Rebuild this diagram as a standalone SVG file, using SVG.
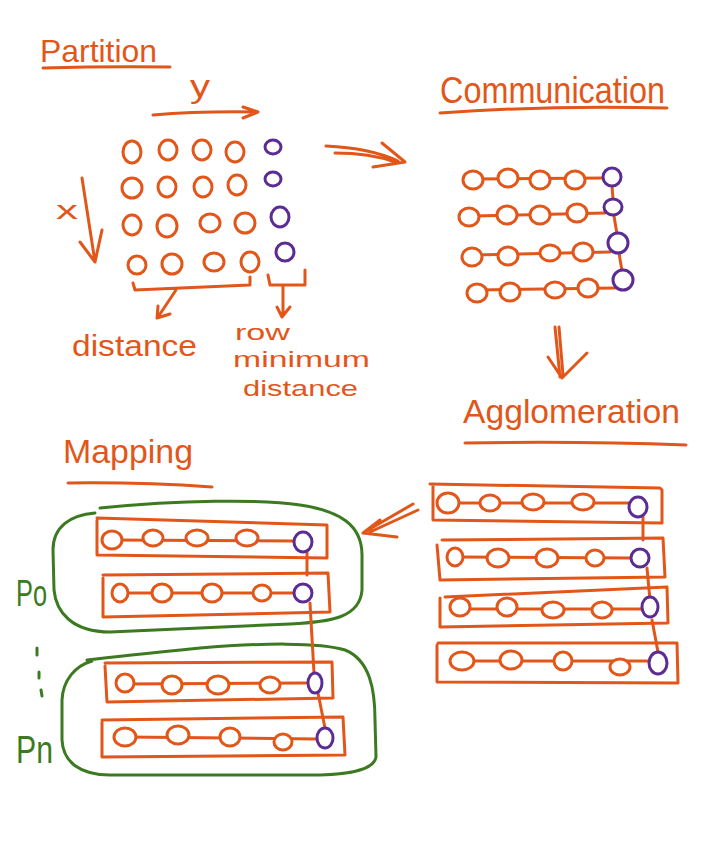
<svg xmlns="http://www.w3.org/2000/svg" width="718" height="865" viewBox="0 0 718 865">
<style>
.o{fill:none;stroke:#E2561A;stroke-width:3;stroke-linecap:round;stroke-linejoin:round}
.oc{fill:#fff;stroke:#E2561A;stroke-width:3}
.pc{fill:#fff;stroke:#5B2C91;stroke-width:3}
.g{fill:none;stroke:#3C7A22;stroke-width:3;stroke-linecap:round;stroke-linejoin:round}
.t{fill:#E2561A;font-family:"Liberation Sans","DejaVu Sans",sans-serif}
.tg{fill:#3C7A22;font-family:"Liberation Sans","DejaVu Sans",sans-serif}
</style>
<rect width="718" height="865" fill="#fff"/>

<g id="partition">
<text class="t" x="40" y="62" font-size="32" textLength="117" lengthAdjust="spacingAndGlyphs">Partition</text>
<path class="o" d="M43,68 Q110,66 170,67"/>
<text class="t" x="190" y="97" font-size="32" textLength="20" lengthAdjust="spacingAndGlyphs">y</text>
<path class="o" d="M153,115 Q200,111 257,112 M243,107 L258,112 L243,118"/>
<text class="t" x="56" y="219" font-size="26" textLength="22" lengthAdjust="spacingAndGlyphs">x</text>
<path class="o" d="M82,178 L95,262 M80,242 L95,262 L102,230"/>
<g id="grid">
<ellipse class="oc" cx="132" cy="152" rx="9" ry="11"/>
<ellipse class="oc" cx="168" cy="150" rx="9" ry="10"/>
<ellipse class="oc" cx="202" cy="150" rx="9" ry="10"/>
<ellipse class="oc" cx="235" cy="152" rx="9" ry="10"/>
<ellipse class="pc" cx="273" cy="147" rx="8" ry="7"/>
<ellipse class="oc" cx="132" cy="188" rx="10" ry="10"/>
<ellipse class="oc" cx="167" cy="187" rx="9" ry="10"/>
<ellipse class="oc" cx="203" cy="187" rx="9" ry="10"/>
<ellipse class="oc" cx="237" cy="185" rx="9" ry="10"/>
<ellipse class="pc" cx="273" cy="179" rx="8" ry="7"/>
<ellipse class="oc" cx="132" cy="225" rx="9" ry="10"/>
<ellipse class="oc" cx="167" cy="226" rx="10" ry="11"/>
<ellipse class="oc" cx="210" cy="223" rx="10" ry="9"/>
<ellipse class="oc" cx="245" cy="223" rx="10" ry="10"/>
<ellipse class="pc" cx="280" cy="217" rx="9" ry="10"/>
<ellipse class="oc" cx="137" cy="265" rx="9" ry="9"/>
<ellipse class="oc" cx="172" cy="264" rx="10" ry="10"/>
<ellipse class="oc" cx="214" cy="262" rx="10" ry="9"/>
<ellipse class="oc" cx="250" cy="262" rx="9" ry="10"/>
<ellipse class="pc" cx="285" cy="252" rx="9" ry="9"/>
</g>
<path class="o" d="M133,283 L135,290 L250,285 L250,277 M176,290 L158,317 M158,306 L157,318 L170,314"/>
<path class="o" d="M268,275 L270,285 L305,285 L305,270 M283,285 L283,316 M277,307 L282,317 L290,307"/>
<text class="t" x="72" y="356" font-size="30" textLength="125" lengthAdjust="spacingAndGlyphs">distance</text>
<text class="t" x="235" y="340" font-size="22" textLength="55" lengthAdjust="spacingAndGlyphs">row</text>
<text class="t" x="233" y="367" font-size="22" textLength="137" lengthAdjust="spacingAndGlyphs">minimum</text>
<text class="t" x="243" y="396" font-size="22" textLength="115" lengthAdjust="spacingAndGlyphs">distance</text>
</g>

<g id="connectors">
<path class="o" d="M326,146 Q370,148 398,161 M335,153 Q370,153 395,162 M382,143 L405,162 L373,167"/>
<path class="o" d="M555,327 L560,377 M559,327 L563,375 M548,357 L562,378 L587,353"/>
<path class="o" d="M413,504 L363,533 M418,510 L370,532 M380,520 L363,533 L397,537"/>
</g>

<g id="communication">
<text class="t" x="440" y="103" font-size="36" textLength="225" lengthAdjust="spacingAndGlyphs">Communication</text>
<path class="o" d="M440,113 Q550,105 667,108"/>
<path class="o" d="M473,179 L604,178 M473,216 L605,213 M472,255 L610,252 M477,290 L615,288 M612,186 L613,199 M614,216 L617,234 M619,253 L622,271"/>
<ellipse class="oc" cx="473" cy="180" rx="10" ry="9"/>
<ellipse class="oc" cx="508" cy="178" rx="10" ry="9"/>
<ellipse class="oc" cx="540" cy="180" rx="10" ry="9"/>
<ellipse class="oc" cx="575" cy="180" rx="10" ry="9"/>
<ellipse class="pc" cx="612" cy="177" rx="9" ry="9"/>
<ellipse class="oc" cx="469" cy="217" rx="10" ry="9"/>
<ellipse class="oc" cx="507" cy="215" rx="10" ry="9"/>
<ellipse class="oc" cx="540" cy="215" rx="10" ry="9"/>
<ellipse class="oc" cx="577" cy="213" rx="10" ry="9"/>
<ellipse class="pc" cx="613" cy="207" rx="9" ry="8"/>
<ellipse class="oc" cx="472" cy="257" rx="10" ry="9"/>
<ellipse class="oc" cx="508" cy="256" rx="10" ry="9"/>
<ellipse class="oc" cx="550" cy="253" rx="10" ry="8"/>
<ellipse class="oc" cx="583" cy="252" rx="10" ry="9"/>
<ellipse class="pc" cx="618" cy="243" rx="10" ry="10"/>
<ellipse class="oc" cx="477" cy="293" rx="10" ry="9"/>
<ellipse class="oc" cx="510" cy="292" rx="10" ry="9"/>
<ellipse class="oc" cx="555" cy="290" rx="10" ry="8"/>
<ellipse class="oc" cx="588" cy="288" rx="10" ry="9"/>
<ellipse class="pc" cx="623" cy="280" rx="10" ry="10"/>
</g>

<g id="agglomeration">
<text class="t" x="463" y="423" font-size="34" textLength="217" lengthAdjust="spacingAndGlyphs">Agglomeration</text>
<path class="o" d="M465,443 Q580,441 686,445"/>
<path class="o" d="M430,484 L660,488 L662,490 L662,523 L433,520 L433,486"/>
<path class="o" d="M442,540 L663,538 L665,577 L440,580 L437,545"/>
<path class="o" d="M445,597 L667,587 L668,623 L440,627 L440,598"/>
<path class="o" d="M438,643 L677,643 L678,683 L437,682 L437,645"/>
<path class="o" d="M448,503 L629,503 M455,557 L631,558 M460,609 L641,609 M460,661 L649,661 M643,517 L643,540 M647,568 L650,600 M652,620 L658,652"/>
<ellipse class="oc" cx="448" cy="503" rx="11" ry="10"/>
<ellipse class="oc" cx="490" cy="503" rx="10" ry="8"/>
<ellipse class="oc" cx="533" cy="502" rx="11" ry="8"/>
<ellipse class="oc" cx="583" cy="502" rx="11" ry="8"/>
<ellipse class="pc" cx="638" cy="507" rx="9" ry="10"/>
<ellipse class="oc" cx="455" cy="557" rx="8" ry="9"/>
<ellipse class="oc" cx="498" cy="558" rx="11" ry="9"/>
<ellipse class="oc" cx="547" cy="558" rx="11" ry="9"/>
<ellipse class="oc" cx="595" cy="558" rx="9" ry="8"/>
<ellipse class="pc" cx="640" cy="558" rx="9" ry="9"/>
<ellipse class="oc" cx="460" cy="607" rx="10" ry="9"/>
<ellipse class="oc" cx="507" cy="607" rx="10" ry="9"/>
<ellipse class="oc" cx="553" cy="610" rx="11" ry="8"/>
<ellipse class="oc" cx="602" cy="610" rx="10" ry="8"/>
<ellipse class="pc" cx="650" cy="607" rx="8" ry="10"/>
<ellipse class="oc" cx="462" cy="661" rx="12" ry="9"/>
<ellipse class="oc" cx="511" cy="660" rx="11" ry="9"/>
<ellipse class="oc" cx="563" cy="661" rx="9" ry="9"/>
<ellipse class="oc" cx="620" cy="667" rx="10" ry="8"/>
<ellipse class="pc" cx="658" cy="663" rx="9" ry="11"/>
</g>

<g id="mapping">
<text class="t" x="63" y="463" font-size="34" textLength="130" lengthAdjust="spacingAndGlyphs">Mapping</text>
<path class="o" d="M68,483 Q140,482 212,487"/>
<path class="g" d="M100,508 C180,500 260,499 300,505 C340,511 362,525 362,555 L362,590 C360,618 330,622 290,624 L110,632 C72,632 56,612 54,590 L53,550 C53,527 70,515 95,513"/>
<path class="g" d="M87,660 C120,656 160,652 200,648 C260,643 320,642 345,650 C370,660 375,690 375,720 L376,757 C374,770 350,774 320,775 L110,775 C80,775 63,762 62,740 L62,700 C63,680 75,666 92,661"/>
<path class="o" d="M97,518 L327,525 L327,558 L97,555 L97,520"/>
<path class="o" d="M103,575 L328,573 L330,612 L103,617 L103,578"/>
<path class="o" d="M105,663 L332,662 L333,698 L107,702 L105,666"/>
<path class="o" d="M102,720 L343,717 L345,755 L102,757 L102,722"/>
<path class="o" d="M112,540 L294,541 M120,593 L294,593 M125,684 L306,683 M125,737 L316,739 M307,552 L307,575 M310,603 L314,673 M318,693 L325,728"/>
<ellipse class="oc" cx="112" cy="540" rx="10" ry="9"/>
<ellipse class="oc" cx="153" cy="538" rx="10" ry="8"/>
<ellipse class="oc" cx="197" cy="538" rx="11" ry="8"/>
<ellipse class="oc" cx="247" cy="538" rx="11" ry="8"/>
<ellipse class="pc" cx="303" cy="542" rx="9" ry="10"/>
<ellipse class="oc" cx="120" cy="593" rx="8" ry="9"/>
<ellipse class="oc" cx="162" cy="593" rx="10" ry="9"/>
<ellipse class="oc" cx="212" cy="593" rx="10" ry="9"/>
<ellipse class="oc" cx="262" cy="593" rx="9" ry="8"/>
<ellipse class="pc" cx="303" cy="593" rx="9" ry="9"/>
<ellipse class="oc" cx="125" cy="683" rx="9" ry="9"/>
<ellipse class="oc" cx="172" cy="685" rx="10" ry="9"/>
<ellipse class="oc" cx="218" cy="685" rx="11" ry="9"/>
<ellipse class="oc" cx="270" cy="685" rx="10" ry="8"/>
<ellipse class="pc" cx="315" cy="683" rx="7" ry="10"/>
<ellipse class="oc" cx="125" cy="737" rx="11" ry="9"/>
<ellipse class="oc" cx="178" cy="735" rx="11" ry="9"/>
<ellipse class="oc" cx="230" cy="737" rx="10" ry="9"/>
<ellipse class="oc" cx="283" cy="742" rx="9" ry="8"/>
<ellipse class="pc" cx="325" cy="738" rx="8" ry="10"/>
<text class="tg" x="16" y="606" font-size="36" textLength="31" lengthAdjust="spacingAndGlyphs">Po</text>
<text class="tg" x="16" y="763" font-size="38" textLength="37" lengthAdjust="spacingAndGlyphs">Pn</text>
<path class="g" d="M37,648 L37,655 M39,672 L39,678 M41,690 L42,696"/>
</g>
</svg>
